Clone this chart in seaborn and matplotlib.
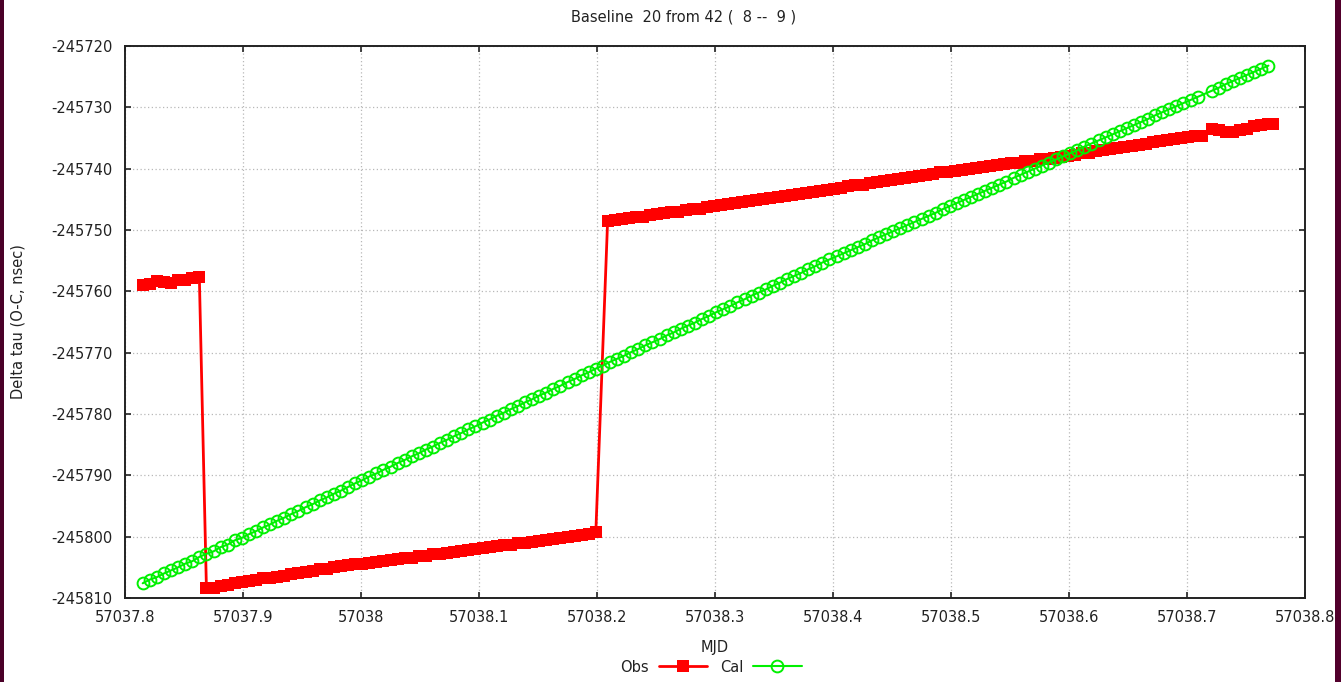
import matplotlib
matplotlib.use("Agg")
import matplotlib.pyplot as plt
import matplotlib.patches as mpatches
from matplotlib.ticker import FuncFormatter
import pandas as pd
import seaborn as sns

# ---- data -----------------------------------------------------------------
title = "Baseline  20 from 42 (  8 --  9 )"
x_label = "MJD"
y_label = "Delta tau (O-C, nsec)"

# Cal: calibrated delay
cal_mjd = [
    57037.815, 57037.821, 57037.827, 57037.833, 57037.839, 57037.845, 57037.851, 57037.857,
    57037.863, 57037.869, 57037.875, 57037.881, 57037.887, 57037.893, 57037.899, 57037.905,
    57037.911, 57037.917, 57037.923, 57037.929, 57037.935, 57037.941, 57037.947, 57037.953,
    57037.959, 57037.965, 57037.971, 57037.977, 57037.983, 57037.989, 57037.995, 57038.001,
    57038.007, 57038.013, 57038.019, 57038.025, 57038.031, 57038.037, 57038.043, 57038.049,
    57038.055, 57038.061, 57038.067, 57038.073, 57038.079, 57038.085, 57038.091, 57038.097,
    57038.103, 57038.109, 57038.115, 57038.121, 57038.127, 57038.133, 57038.139, 57038.145,
    57038.151, 57038.157, 57038.163, 57038.169, 57038.175, 57038.181, 57038.187, 57038.193,
    57038.199, 57038.205, 57038.211, 57038.217, 57038.223, 57038.229, 57038.235, 57038.241,
    57038.247, 57038.253, 57038.259, 57038.265, 57038.271, 57038.277, 57038.283, 57038.289,
    57038.295, 57038.301, 57038.307, 57038.313, 57038.319, 57038.325, 57038.331, 57038.337,
    57038.343, 57038.349, 57038.355, 57038.361, 57038.367, 57038.373, 57038.379, 57038.385,
    57038.391, 57038.397, 57038.403, 57038.409, 57038.415, 57038.421, 57038.427, 57038.433,
    57038.439, 57038.445, 57038.451, 57038.457, 57038.463, 57038.469, 57038.475, 57038.481,
    57038.487, 57038.493, 57038.499, 57038.505, 57038.511, 57038.517, 57038.523, 57038.529,
    57038.535, 57038.541, 57038.547, 57038.553, 57038.559, 57038.565, 57038.571, 57038.577,
    57038.583, 57038.589, 57038.595, 57038.601, 57038.607, 57038.613, 57038.619, 57038.625,
    57038.631, 57038.637, 57038.643, 57038.649, 57038.655, 57038.661, 57038.667, 57038.673,
    57038.679, 57038.685, 57038.691, 57038.697, 57038.703, 57038.709, 57038.721, 57038.727,
    57038.733, 57038.739, 57038.745, 57038.751, 57038.757, 57038.763, 57038.769,
]
cal_tau = [
    -245807.6, -245807.0, -245806.6, -245806.0, -245805.5, -245805.0, -245804.4, -245804.0,
    -245803.3, -245802.8, -245802.4, -245801.7, -245801.3, -245800.6, -245800.2, -245799.6,
    -245799.1, -245798.5, -245798.0, -245797.4, -245796.9, -245796.3, -245795.8, -245795.2,
    -245794.7, -245794.1, -245793.6, -245793.0, -245792.5, -245791.9, -245791.3, -245790.8,
    -245790.2, -245789.7, -245789.1, -245788.6, -245788.0, -245787.5, -245786.9, -245786.4,
    -245785.8, -245785.3, -245784.7, -245784.2, -245783.6, -245783.1, -245782.5, -245782.0,
    -245781.4, -245780.9, -245780.3, -245779.8, -245779.2, -245778.7, -245778.1, -245777.6,
    -245777.0, -245776.5, -245775.9, -245775.4, -245774.8, -245774.3, -245773.7, -245773.2,
    -245772.6, -245772.1, -245771.5, -245771.0, -245770.5, -245769.9, -245769.4, -245768.8,
    -245768.3, -245767.8, -245767.2, -245766.7, -245766.1, -245765.6, -245765.1, -245764.5,
    -245764.0, -245763.4, -245762.9, -245762.4, -245761.8, -245761.3, -245760.7, -245760.2,
    -245759.7, -245759.1, -245758.6, -245758.0, -245757.5, -245757.0, -245756.4, -245755.9,
    -245755.3, -245754.8, -245754.3, -245753.8, -245753.3, -245752.8, -245752.3, -245751.7,
    -245751.2, -245750.7, -245750.2, -245749.7, -245749.2, -245748.7, -245748.2, -245747.7,
    -245747.2, -245746.6, -245746.1, -245745.6, -245745.1, -245744.6, -245744.1, -245743.6,
    -245743.1, -245742.6, -245742.1, -245741.5, -245741.0, -245740.5, -245740.0, -245739.5,
    -245739.0, -245738.5, -245738.0, -245737.5, -245737.0, -245736.4, -245735.9, -245735.4,
    -245734.9, -245734.4, -245733.9, -245733.4, -245732.9, -245732.4, -245731.9, -245731.3,
    -245730.8, -245730.3, -245729.8, -245729.3, -245728.8, -245728.3, -245727.3, -245726.8,
    -245726.2, -245725.7, -245725.2, -245724.7, -245724.2, -245723.7, -245723.2,
]

# Obs: observed delay (three clock segments)
obs_mjd = [
    57037.815, 57037.821, 57037.827, 57037.833, 57037.839, 57037.845, 57037.851, 57037.857,
    57037.863,
    57037.869, 57037.875, 57037.881, 57037.887, 57037.893, 57037.899, 57037.905, 57037.911,
    57037.917, 57037.923, 57037.929, 57037.935, 57037.941, 57037.947, 57037.953, 57037.959,
    57037.965, 57037.971, 57037.977, 57037.983, 57037.989, 57037.995, 57038.001, 57038.007,
    57038.013, 57038.019, 57038.025, 57038.031, 57038.037, 57038.043, 57038.049, 57038.055,
    57038.061, 57038.067, 57038.073, 57038.079, 57038.085, 57038.091, 57038.097, 57038.103,
    57038.109, 57038.115, 57038.121, 57038.127, 57038.133, 57038.139, 57038.145, 57038.151,
    57038.157, 57038.163, 57038.169, 57038.175, 57038.181, 57038.187, 57038.193, 57038.199,
    57038.209, 57038.215, 57038.221, 57038.227, 57038.233, 57038.239, 57038.245, 57038.251,
    57038.257, 57038.263, 57038.269, 57038.275, 57038.281, 57038.287, 57038.293, 57038.299,
    57038.305, 57038.311, 57038.317, 57038.323, 57038.329, 57038.335, 57038.341, 57038.347,
    57038.353, 57038.359, 57038.365, 57038.371, 57038.377, 57038.383, 57038.389, 57038.395,
    57038.401, 57038.407, 57038.413, 57038.419, 57038.425, 57038.431, 57038.437, 57038.443,
    57038.449, 57038.455, 57038.461, 57038.467, 57038.473, 57038.479, 57038.485, 57038.491,
    57038.497, 57038.503, 57038.509, 57038.515, 57038.521, 57038.527, 57038.533, 57038.539,
    57038.545, 57038.551, 57038.557, 57038.563, 57038.569, 57038.575, 57038.581, 57038.587,
    57038.593, 57038.599, 57038.605, 57038.611, 57038.617, 57038.623, 57038.629, 57038.635,
    57038.641, 57038.647, 57038.653, 57038.659, 57038.665, 57038.671, 57038.677, 57038.683,
    57038.689, 57038.695, 57038.701, 57038.707, 57038.713, 57038.721, 57038.727, 57038.733,
    57038.739, 57038.745, 57038.751, 57038.757, 57038.763, 57038.769, 57038.773,
]
obs_tau = [
    -245759.0, -245758.8, -245758.3, -245758.4, -245758.6, -245758.2, -245758.1, -245757.8,
    -245757.7,
    -245808.4, -245808.3, -245808.0, -245807.9, -245807.6, -245807.4, -245807.3, -245807.1,
    -245806.8, -245806.7, -245806.5, -245806.4, -245806.1, -245805.9, -245805.8, -245805.6,
    -245805.3, -245805.2, -245805.0, -245804.8, -245804.7, -245804.5, -245804.4, -245804.3,
    -245804.1, -245803.9, -245803.8, -245803.7, -245803.5, -245803.4, -245803.2, -245803.1,
    -245802.9, -245802.8, -245802.7, -245802.5, -245802.3, -245802.2, -245802.0, -245801.9,
    -245801.7, -245801.6, -245801.4, -245801.3, -245801.1, -245801.0, -245800.8, -245800.7,
    -245800.5, -245800.4, -245800.2, -245800.1, -245799.9, -245799.8, -245799.6, -245799.3,
    -245748.5, -245748.4, -245748.2, -245748.1, -245747.9, -245747.8, -245747.6, -245747.4,
    -245747.3, -245747.1, -245747.0, -245746.8, -245746.6, -245746.5, -245746.3, -245746.1,
    -245746.0, -245745.8, -245745.6, -245745.5, -245745.3, -245745.1, -245745.0, -245744.8,
    -245744.6, -245744.5, -245744.3, -245744.1, -245743.9, -245743.8, -245743.6, -245743.4,
    -245743.3, -245743.1, -245742.9, -245742.7, -245742.6, -245742.4, -245742.2, -245742.0,
    -245741.9, -245741.7, -245741.5, -245741.3, -245741.2, -245741.0, -245740.8, -245740.6,
    -245740.5, -245740.3, -245740.2, -245740.0, -245739.9, -245739.7, -245739.6, -245739.4,
    -245739.3, -245739.1, -245739.0, -245738.8, -245738.7, -245738.5, -245738.4, -245738.2,
    -245738.1, -245737.9, -245737.7, -245737.5, -245737.4, -245737.2, -245737.0, -245736.8,
    -245736.6, -245736.4, -245736.3, -245736.1, -245735.9, -245735.7, -245735.5, -245735.3,
    -245735.2, -245735.0, -245734.8, -245734.7, -245734.6, -245733.6, -245733.7, -245734.0,
    -245734.0, -245733.7, -245733.5, -245733.0, -245732.8, -245732.7, -245732.7,
]

x_ticks = [57037.8, 57037.9, 57038.0, 57038.1, 57038.2, 57038.3,
           57038.4, 57038.5, 57038.6, 57038.7, 57038.8]
y_ticks = [-245810, -245800, -245790, -245780, -245770,
           -245760, -245750, -245740, -245730, -245720]

# ---- figure ---------------------------------------------------------------
sns.set_theme(style="white")
plt.rcParams["font.family"] = ["DejaVu Sans"]
plt.rcParams["axes.unicode_minus"] = False

FS = 10.5
TXT = "#222222"
W, H = 1341, 682
fig = plt.figure(figsize=(W / 100, H / 100), dpi=100)
fig.patch.set_facecolor("white")
ax = fig.add_axes([125 / W, 1 - 598 / H, (1305 - 125) / W, (598 - 46) / H])

df = pd.concat([
    pd.DataFrame({"MJD": obs_mjd, "tau": obs_tau, "series": "Obs"}),
    pd.DataFrame({"MJD": cal_mjd, "tau": cal_tau, "series": "Cal"}),
], ignore_index=True)

red = "#ff0000"
green = "#00f000"

sns.lineplot(data=df[df.series == "Obs"], x="MJD", y="tau", ax=ax, sort=False,
             estimator=None, color=red, linewidth=2.0, marker="s",
             markersize=8, markeredgewidth=0, markerfacecolor=red,
             label="Obs", zorder=3)
sns.lineplot(data=df[df.series == "Cal"], x="MJD", y="tau", ax=ax, sort=False,
             estimator=None, color=green, linewidth=1.5, marker="o",
             markersize=8.5, markeredgewidth=1.4, markerfacecolor="none",
             markeredgecolor=green, label="Cal", zorder=4)

ax.set_xlim(57037.8, 57038.8)
ax.set_ylim(-245810, -245720)
ax.set_xticks(x_ticks)
ax.set_yticks(y_ticks)
ax.xaxis.set_major_formatter(FuncFormatter(lambda v, p: "%g" % round(v, 1)))
ax.yaxis.set_major_formatter(FuncFormatter(lambda v, p: "%d" % round(v)))

ax.grid(True, color="#b8b8b8", linestyle=(0, (1, 2)), linewidth=0.9)
ax.tick_params(axis="both", which="major", direction="in", length=4, width=1.2,
               color=TXT, top=True, right=True, bottom=True, left=True,
               labelsize=FS, labelcolor=TXT, pad=9)
for s in ax.spines.values():
    s.set_color(TXT)
    s.set_linewidth(1.4)

ax.set_xlabel(x_label, fontsize=FS, color=TXT)
ax.set_ylabel(y_label, fontsize=FS, color=TXT)
ax.xaxis.set_label_coords(0.5, -0.076)
ax.yaxis.set_label_coords(-0.084, 0.5)

fig.text(0.5 + 13 / W, 1 - 17 / H, title, ha="center", va="center",
         fontsize=FS, color=TXT)

handles, labels = ax.get_legend_handles_labels()
ax.legend(handles, labels, loc="center", bbox_to_anchor=(711 / W, 1 - 667 / H),
          bbox_transform=fig.transFigure, ncol=2, frameon=False, markerfirst=False,
          fontsize=FS, handlelength=3.3, handletextpad=0.7, columnspacing=0.85,
          borderpad=0, labelcolor=TXT)

# window edges
fig.patches.append(mpatches.Rectangle((0, 0), 4 / W, 1, transform=fig.transFigure,
                                      facecolor="#4a0028", edgecolor="none", zorder=10))
fig.patches.append(mpatches.Rectangle((1335 / W, 0), 6 / W, 1, transform=fig.transFigure,
                                      facecolor="#52002c", edgecolor="none", zorder=10))

fig.savefig("out.png", dpi=100, facecolor=fig.get_facecolor())
